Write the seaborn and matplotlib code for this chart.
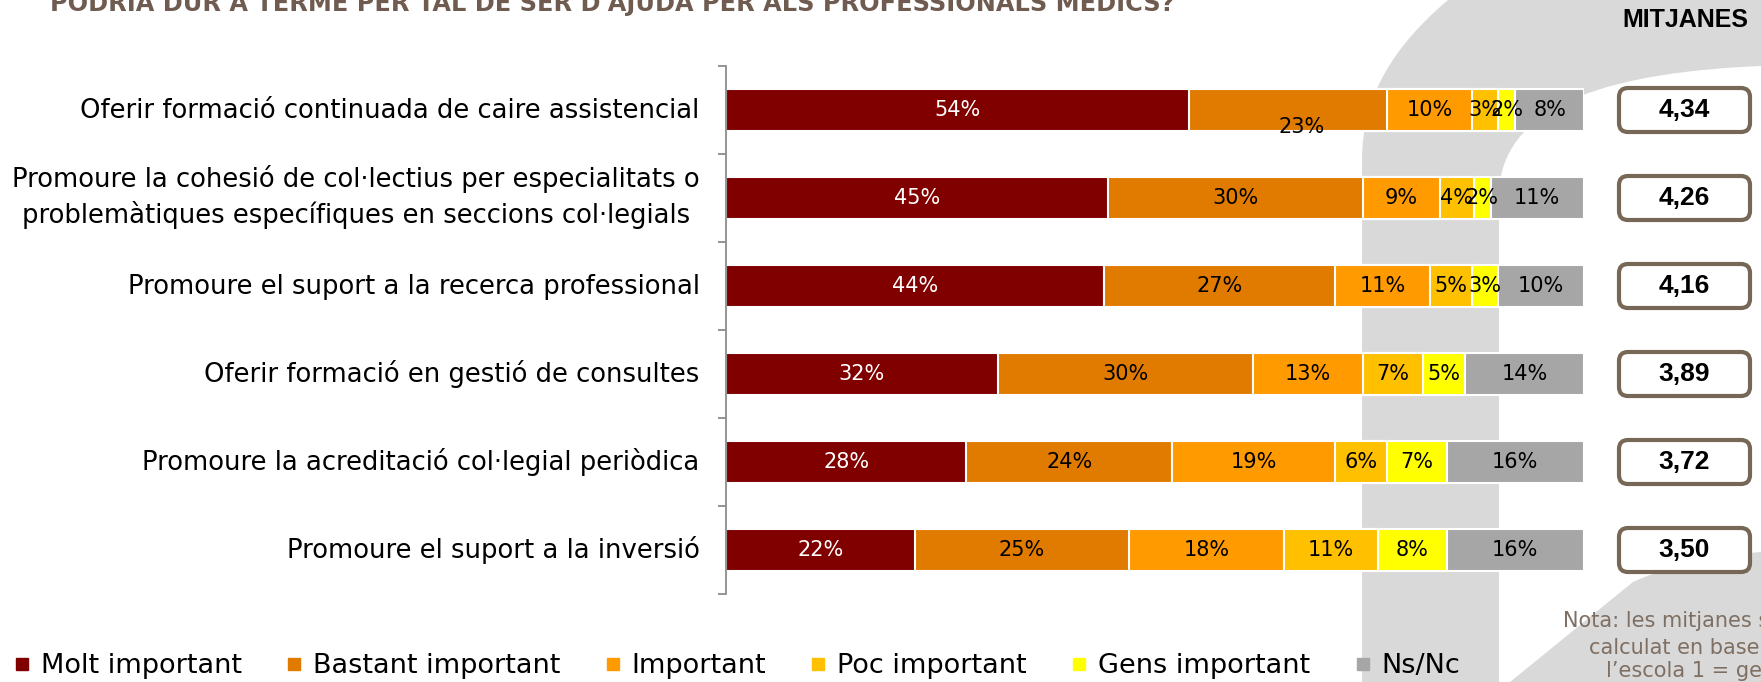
import numpy as np
import pandas as pd
import matplotlib
matplotlib.use("Agg")
import matplotlib.pyplot as plt
import matplotlib.transforms as mtransforms
import seaborn as sns
from matplotlib.patches import FancyBboxPatch, PathPatch
from matplotlib.path import Path
from matplotlib.lines import Line2D

# ---- data -------------------------------------------------------------
categories = [
    "Oferir formació continuada de caire assistencial",
    "Promoure la cohesió de col·lectius per especialitats o\nproblemàtiques específiques en seccions col·legials",
    "Promoure el suport a la recerca professional",
    "Oferir formació en gestió de consultes",
    "Promoure la acreditació col·legial periòdica",
    "Promoure el suport a la inversió",
]
series = ["Molt important", "Bastant important", "Important",
          "Poc important", "Gens important", "Ns/Nc"]
molt = [54, 45, 44, 32, 28, 22]
bastant = [23, 30, 27, 30, 24, 25]
important = [10, 9, 11, 13, 19, 18]
poc = [3, 4, 5, 7, 6, 11]
gens = [2, 2, 3, 5, 7, 8]
nsnc = [8, 11, 10, 14, 16, 16]
mitjanes = [4.34, 4.26, 4.16, 3.89, 3.72, 3.50]

title = "PODRIA DUR A TERME PER TAL DE SER D'AJUDA PER ALS PROFESSIONALS MÈDICS?"
note_lines = ["Nota: les mitjanes s'han", "calculat en base a",
              "l’escola 1 = gens important, 5 = molt important"]

colors = ["#800000", "#E07B00", "#FF9A00", "#FFC000", "#FFFF00", "#A6A6A6"]

# ---- figure -----------------------------------------------------------
sns.set_theme(style="white")
plt.rcParams["font.family"] = ["DejaVu Sans"]

W, H = 1761, 682
fig = plt.figure(figsize=(W / 100, H / 100), dpi=100)
fig.patch.set_facecolor("white")


def fx(px):
    return px / W


def fy(py):
    return 1 - py / H


# light grey logo shape in the background
bg = fig.add_axes([0, 0, 1, 1], zorder=0)
bg.set_xlim(0, W)
bg.set_ylim(H, 0)
bg.axis("off")
logo_grey = "#D9D9D9"
band = Path(
    [(1362, 682), (1362, 160),
     (1362, 95), (1395, 45), (1448, 0),
     (1761, 0), (1761, 66),
     (1620, 72), (1505, 100), (1499, 190),
     (1499, 682), (1362, 682)],
    [Path.MOVETO, Path.LINETO,
     Path.CURVE4, Path.CURVE4, Path.CURVE4,
     Path.LINETO, Path.LINETO,
     Path.CURVE4, Path.CURVE4, Path.CURVE4,
     Path.LINETO, Path.CLOSEPOLY])
bg.add_patch(PathPatch(band, fc=logo_grey, ec="none"))
corner = Path(
    [(1510, 682), (1633, 582),
     (1670, 565), (1720, 555), (1761, 552),
     (1761, 682), (1510, 682)],
    [Path.MOVETO, Path.LINETO,
     Path.CURVE4, Path.CURVE4, Path.CURVE4,
     Path.LINETO, Path.CLOSEPOLY])
bg.add_patch(PathPatch(corner, fc=logo_grey, ec="none"))

# ---- stacked 100% bars ------------------------------------------------
ax = fig.add_axes([fx(726), fy(594), (1584 - 726) / W, (594 - 66) / H], zorder=1)
ax.patch.set_alpha(0)

vals = np.array([molt, bastant, important, poc, gens, nsnc], dtype=float).T
share = vals / vals.sum(axis=1, keepdims=True) * 100
cum = share.cumsum(axis=1)
df = pd.DataFrame(cum, columns=series)
df["item"] = categories

# draw cumulative bars from the longest to the shortest so each segment shows
for j in reversed(range(len(series))):
    sns.barplot(data=df, x=series[j], y="item", color=colors[j], width=0.48,
                orient="h", saturation=1, errorbar=None, edgecolor="white",
                linewidth=1.5, ax=ax)

# value labels inside the segments
label_nudge = {(0, 1): (10, -12)}
for i in range(len(categories)):
    starts = cum[i] - share[i]
    for j in range(len(series)):
        xc = starts[j] + share[i, j] / 2
        ax.annotate(f"{vals[i, j]:.0f}%", (xc, i),
                    xytext=label_nudge.get((i, j), (0, 0)),
                    textcoords="offset points", ha="center", va="center",
                    fontsize=15, color="white" if j == 0 else "black",
                    zorder=5)

ax.set_xlim(0, 100)
ax.set_ylim(5.5, -0.5)
ax.set_xlabel("")
ax.set_ylabel("")
ax.xaxis.set_visible(False)
for s in ["top", "right", "bottom"]:
    ax.spines[s].set_visible(False)
ax.spines["left"].set_color("#8c8c8c")
ax.spines["left"].set_linewidth(1.3)
ax.set_yticks(range(len(categories)))
ax.set_yticklabels(categories, fontsize=18.6, color="black")
ax.set_yticks(np.arange(-0.5, len(categories), 1), minor=True)
ax.tick_params(axis="y", which="major", length=0, pad=19)
ax.tick_params(axis="y", which="minor", left=True, length=6, width=1.3,
               color="#8c8c8c", direction="out")
for lbl in ax.get_yticklabels():
    lbl.set_multialignment("center")
    lbl.set_linespacing(1.35)
    lift = 5.5 if "\n" in lbl.get_text() else 1.8
    lbl.set_transform(lbl.get_transform() +
                      mtransforms.ScaledTranslation(0, lift / 72, fig.dpi_scale_trans))

# ---- averages column ----------------------------------------------------
mx = fig.add_axes([fx(1617), fy(594), (1752 - 1617) / W, (594 - 66) / H], zorder=2)
mx.set_xlim(0, 135)
mx.set_ylim(5.5, -0.5)
mx.axis("off")
for i, m in enumerate(mitjanes):
    mx.add_patch(FancyBboxPatch((2, i - 0.25), 131, 0.5,
                                boxstyle="round,pad=0,rounding_size=9",
                                mutation_aspect=1 / 88, fc="white",
                                ec="#766756", lw=3, clip_on=False))
    mx.text(67.5, i, f"{m:.2f}".replace(".", ","), ha="center", va="center",
            fontsize=19, fontweight="bold", family="Liberation Sans",
            color="black")

fig.text(fx(1685), fy(20), "MITJANES", ha="center", va="center",
         fontsize=18, fontweight="bold", family="Liberation Sans", color="black")

# ---- title (runs off the top edge) -------------------------------------
fig.text(fx(50), fy(11), title, ha="left", va="baseline", fontsize=17.3,
         fontweight="bold", color="#6f5b4f")

# ---- note ---------------------------------------------------------------
for x0, y0, line in zip([1563, 1589, 1606], [621, 648, 671], note_lines):
    fig.text(fx(x0), fy(y0), line, ha="left", va="center", fontsize=15,
             color="#7f6f62")

# ---- legend -------------------------------------------------------------
handles = [Line2D([], [], marker="s", ls="none", color=c, markersize=8)
           for c in colors]
fig.legend(handles, series, loc="center left",
           bbox_to_anchor=(fx(15), fy(666)), ncol=6, frameon=False,
           fontsize=19.5, handlelength=0.5, handletextpad=0.45,
           columnspacing=1.68, borderpad=0, borderaxespad=0,
           labelcolor="black")

fig.savefig("out.png", dpi=100, facecolor="white")
